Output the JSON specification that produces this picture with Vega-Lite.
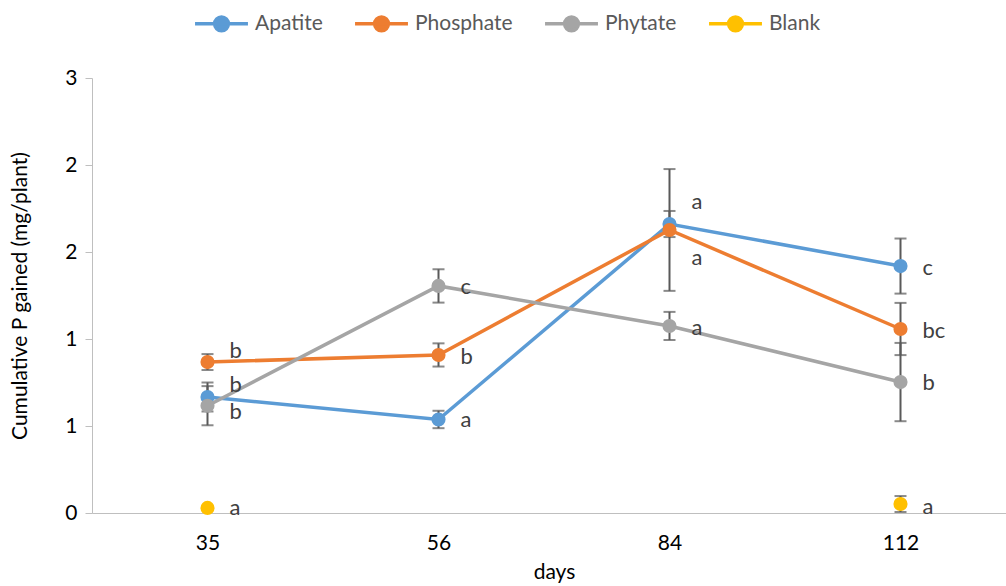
{
  "$schema": "https://vega.github.io/schema/vega-lite/v6.json",
  "width": 914,
  "height": 435,
  "autosize": {"type": "none"},
  "padding": {"left": 92, "top": 78, "right": 0, "bottom": 73},
  "background": "white",
  "config": {"font": "Lato", "view": {"stroke": null}},
  "data": {
    "values": [
      {"series": "Apatite", "day": 35, "value": 0.80, "err": 0.10, "label": "b", "label_at": 0.883},
      {"series": "Apatite", "day": 56, "value": 0.645, "err": 0.06, "label": "a", "label_at": 0.641},
      {"series": "Apatite", "day": 84, "value": 1.993, "err": 0.09, "label": "a", "label_at": 2.145},
      {"series": "Apatite", "day": 112, "value": 1.703, "err": 0.19, "label": "c", "label_at": 1.69},
      {"series": "Phosphate", "day": 35, "value": 1.041, "err": 0.055, "label": "b", "label_at": 1.117},
      {"series": "Phosphate", "day": 56, "value": 1.09, "err": 0.08, "label": "b", "label_at": 1.076},
      {"series": "Phosphate", "day": 84, "value": 1.952, "err": 0.42, "label": "a", "label_at": 1.759},
      {"series": "Phosphate", "day": 112, "value": 1.269, "err": 0.18, "label": "bc", "label_at": 1.255},
      {"series": "Phytate", "day": 35, "value": 0.74, "err": 0.135, "label": "b", "label_at": 0.697},
      {"series": "Phytate", "day": 56, "value": 1.566, "err": 0.115, "label": "c", "label_at": 1.559},
      {"series": "Phytate", "day": 84, "value": 1.29, "err": 0.097, "label": "a", "label_at": 1.276},
      {"series": "Phytate", "day": 112, "value": 0.903, "err": 0.27, "label": "b", "label_at": 0.897},
      {"series": "Blank", "day": 35, "value": 0.035, "err": 0, "label": "a", "label_at": 0.034},
      {"series": "Blank", "day": 112, "value": 0.062, "err": 0.055, "label": "a", "label_at": 0.041}
    ]
  },
  "encoding": {
    "x": {
      "field": "day",
      "type": "ordinal",
      "scale": {"type": "point", "range": [0, 924], "padding": 0.5},
      "axis": {
        "title": "days",
        "labelAngle": 0,
        "ticks": false,
        "grid": false,
        "domainColor": "#BFBFBF",
        "domainWidth": 1,
        "labelFontSize": 21,
        "labelColor": "#000000",
        "labelPadding": 19,
        "titleFontSize": 21,
        "titleFontWeight": "normal",
        "titleColor": "#000000",
        "titlePadding": 8
      }
    }
  },
  "layer": [
    {
      "transform": [{"filter": "datum.err > 0"}],
      "mark": {"type": "errorbar", "ticks": {"size": 12}, "thickness": 2, "color": "#595959"},
      "encoding": {
        "y": {"field": "value", "type": "quantitative", "title": "Cumulative P gained (mg/plant)", "scale": {"domain": [0, 3], "nice": false}},
        "yError": {"field": "err"}
      }
    },
    {
      "transform": [{"filter": "datum.series != 'Blank'"}],
      "mark": {"type": "line", "strokeWidth": 3.5},
      "encoding": {
        "y": {"field": "value", "type": "quantitative", "title": "Cumulative P gained (mg/plant)"},
        "color": {
          "field": "series",
          "type": "nominal",
          "scale": {
            "domain": ["Apatite", "Phosphate", "Phytate", "Blank"],
            "range": ["#5B9BD5", "#ED7D31", "#A5A5A5", "#FFC000"]
          }
        }
      }
    },
    {
      "mark": {"type": "point", "filled": true, "size": 200, "opacity": 1},
      "encoding": {
        "y": {
          "field": "value",
          "type": "quantitative",
          "title": "Cumulative P gained (mg/plant)",
          "scale": {"domain": [0, 3], "nice": false},
          "axis": {
            "values": [0, 0.6, 1.2, 1.8, 2.4, 3],
            "format": ".0f",
            "grid": false,
            "domainColor": "#BFBFBF",
            "tickColor": "#BFBFBF",
            "tickSize": 7,
            "labelFontSize": 21,
            "labelColor": "#000000",
            "labelPadding": 8,
            "titleFontSize": 21,
            "titleFontWeight": "normal",
            "titleColor": "#000000",
            "titlePadding": 34
          }
        },
        "color": {
          "field": "series",
          "type": "nominal",
          "scale": {
            "domain": ["Apatite", "Phosphate", "Phytate", "Blank"],
            "range": ["#5B9BD5", "#ED7D31", "#A5A5A5", "#FFC000"]
          },
          "legend": {
            "title": null,
            "orient": "none",
            "direction": "horizontal",
            "legendX": 101,
            "legendY": -83,
            "symbolType": "M-1,0L1,0M0.26,0A0.26,0.26,0,1,1,-0.26,0A0.26,0.26,0,1,1,0.26,0Z",
            "symbolSize": 2800,
            "symbolStrokeWidth": 3.5,
            "labelFontSize": 21,
            "labelColor": "#595959",
            "labelOffset": 5,
            "columnPadding": 25,
            "encode": {
              "symbols": {
                "update": {
                  "fill": {"scale": "color", "field": "value"},
                  "stroke": {"scale": "color", "field": "value"},
                  "opacity": {"value": 1}
                }
              }
            }
          }
        }
      }
    },
    {
      "mark": {"type": "text", "align": "left", "baseline": "middle", "dx": 22, "fontSize": 22, "color": "#404040"},
      "encoding": {
        "y": {"field": "label_at", "type": "quantitative", "title": "Cumulative P gained (mg/plant)"},
        "text": {"field": "label"}
      }
    }
  ]
}
